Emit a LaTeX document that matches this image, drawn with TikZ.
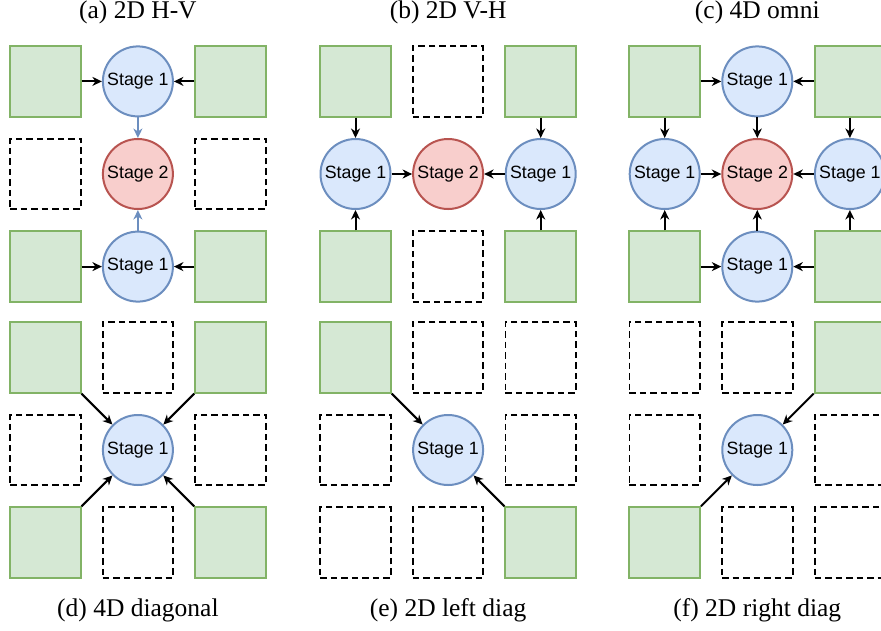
\documentclass[tikz,border=0pt]{standalone}
\usepackage{fontspec}
\setmainfont{Liberation Serif}
\newfontfamily\stagefont{Liberation Sans}
\usetikzlibrary{arrows.meta}
\definecolor{gfill}{HTML}{D5E8D4}
\definecolor{gline}{HTML}{82B366}
\definecolor{bfill}{HTML}{DAE8FC}
\definecolor{bline}{HTML}{6C8EBF}
\definecolor{rfill}{HTML}{F8CECC}
\definecolor{rline}{HTML}{B85450}
\tikzset{
  gsq/.style={rectangle, draw=gline, fill=gfill, line width=2pt, minimum size=70.5pt, inner sep=0pt},
  dsq/.style={rectangle, draw=black, line width=1.9pt, dash pattern=on 6.5pt off 4pt, minimum size=70.5pt, inner sep=0pt},
  sone/.style={circle, draw=bline, fill=bfill, line width=2pt, minimum size=70pt, inner sep=0pt, font=\stagefont\fontsize{17.8}{20}\selectfont},
  stwo/.style={circle, draw=rline, fill=rfill, line width=2pt, minimum size=70pt, inner sep=0pt, font=\stagefont\fontsize{17.8}{20}\selectfont},
  arr/.style={draw=black, line width=2pt, -{Stealth[length=9.5pt,width=9pt,inset=3pt]}},
  barr/.style={arr, draw=bline},
  ttl/.style={anchor=base, inner sep=0pt, font=\fontsize{25.5}{28}\selectfont}
}
\begin{document}
\begin{tikzpicture}[x=1pt,y=-1pt]
\useasboundingbox (0,0) rectangle (881,630);
\clip (0,0) rectangle (881,630);
\def\p{92.6}
% ---------- (a) ----------
\begin{scope}[shift={(137.9,174)}]
\node[gsq] (a-tl) at (-\p,-\p) {};
\node[sone] (a-tc) at (0,-\p) {Stage 1};
\node[gsq] (a-tr) at (\p,-\p) {};
\node[dsq] (a-ml) at (-\p,0) {};
\node[stwo] (a-mc) at (0,0) {Stage 2};
\node[dsq] (a-mr) at (\p,0) {};
\node[gsq] (a-bl) at (-\p,\p) {};
\node[sone] (a-bc) at (0,\p) {Stage 1};
\node[gsq] (a-br) at (\p,\p) {};
\draw[arr] (a-tl) -- (a-tc);
\draw[arr] (a-tr) -- (a-tc);
\draw[arr] (a-bl) -- (a-bc);
\draw[arr] (a-br) -- (a-bc);
\draw[barr] (a-tc) -- (a-mc);
\draw[barr] (a-bc) -- (a-mc);
\node[ttl] (a-t) at (0,-155.7) {(a) 2D H-V};
\end{scope}
% ---------- (b) ----------
\begin{scope}[shift={(448.1,174)}]
\node[gsq] (b-tl) at (-\p,-\p) {};
\node[dsq] (b-tc) at (0,-\p) {};
\node[gsq] (b-tr) at (\p,-\p) {};
\node[sone] (b-ml) at (-\p,0) {Stage 1};
\node[stwo] (b-mc) at (0,0) {Stage 2};
\node[sone] (b-mr) at (\p,0) {Stage 1};
\node[gsq] (b-bl) at (-\p,\p) {};
\node[dsq] (b-bc) at (0,\p) {};
\node[gsq] (b-br) at (\p,\p) {};
\draw[arr] (b-tl) -- (b-ml);
\draw[arr] (b-bl) -- (b-ml);
\draw[arr] (b-tr) -- (b-mr);
\draw[arr] (b-br) -- (b-mr);
\draw[arr] (b-ml) -- (b-mc);
\draw[arr] (b-mr) -- (b-mc);
\node[ttl] (b-t) at (0,-155.7) {(b) 2D V-H};
\end{scope}
% ---------- (c) ----------
\begin{scope}[shift={(757.3,174)}]
\node[gsq] (c-tl) at (-\p,-\p) {};
\node[sone] (c-tc) at (0,-\p) {Stage 1};
\node[gsq] (c-tr) at (\p,-\p) {};
\node[sone] (c-ml) at (-\p,0) {Stage 1};
\node[stwo] (c-mc) at (0,0) {Stage 2};
\node[sone] (c-mr) at (\p,0) {Stage 1};
\node[gsq] (c-bl) at (-\p,\p) {};
\node[sone] (c-bc) at (0,\p) {Stage 1};
\node[gsq] (c-br) at (\p,\p) {};
\draw[arr] (c-tl) -- (c-tc);
\draw[arr] (c-tr) -- (c-tc);
\draw[arr] (c-bl) -- (c-bc);
\draw[arr] (c-br) -- (c-bc);
\draw[arr] (c-tl) -- (c-ml);
\draw[arr] (c-bl) -- (c-ml);
\draw[arr] (c-tr) -- (c-mr);
\draw[arr] (c-br) -- (c-mr);
\draw[arr] (c-tc) -- (c-mc);
\draw[arr] (c-bc) -- (c-mc);
\draw[arr] (c-ml) -- (c-mc);
\draw[arr] (c-mr) -- (c-mc);
\node[ttl] (c-t) at (0,-155.7) {(c) 4D omni};
\end{scope}
% ---------- (d) ----------
\begin{scope}[shift={(137.9,450)}]
\node[gsq] (d-tl) at (-\p,-\p) {};
\node[dsq] (d-tc) at (0,-\p) {};
\node[gsq] (d-tr) at (\p,-\p) {};
\node[dsq] (d-ml) at (-\p,0) {};
\node[sone] (d-mc) at (0,0) {Stage 1};
\node[dsq] (d-mr) at (\p,0) {};
\node[gsq] (d-bl) at (-\p,\p) {};
\node[dsq] (d-bc) at (0,\p) {};
\node[gsq] (d-br) at (\p,\p) {};
\draw[arr] (d-tl.south east) -- (d-mc);
\draw[arr] (d-tr.south west) -- (d-mc);
\draw[arr] (d-bl.north east) -- (d-mc);
\draw[arr] (d-br.north west) -- (d-mc);
\node[ttl] (d-t) at (0,166.7) {(d) 4D diagonal};
\end{scope}
% ---------- (e) ----------
\begin{scope}[shift={(448.1,450)}]
\node[gsq] (e-tl) at (-\p,-\p) {};
\node[dsq] (e-tc) at (0,-\p) {};
\node[dsq] (e-tr) at (\p,-\p) {};
\node[dsq] (e-ml) at (-\p,0) {};
\node[sone] (e-mc) at (0,0) {Stage 1};
\node[dsq] (e-mr) at (\p,0) {};
\node[dsq] (e-bl) at (-\p,\p) {};
\node[dsq] (e-bc) at (0,\p) {};
\node[gsq] (e-br) at (\p,\p) {};
\draw[arr] (e-tl.south east) -- (e-mc);
\draw[arr] (e-br.north west) -- (e-mc);
\node[ttl] (e-t) at (0,166.7) {(e) 2D left diag};
\end{scope}
% ---------- (f) ----------
\begin{scope}[shift={(757.3,450)}]
\node[dsq] (f-tl) at (-\p,-\p) {};
\node[dsq] (f-tc) at (0,-\p) {};
\node[gsq] (f-tr) at (\p,-\p) {};
\node[dsq] (f-ml) at (-\p,0) {};
\node[sone] (f-mc) at (0,0) {Stage 1};
\node[dsq] (f-mr) at (\p,0) {};
\node[gsq] (f-bl) at (-\p,\p) {};
\node[dsq] (f-bc) at (0,\p) {};
\node[dsq] (f-br) at (\p,\p) {};
\draw[arr] (f-tr.south west) -- (f-mc);
\draw[arr] (f-bl.north east) -- (f-mc);
\node[ttl] (f-t) at (0,166.7) {(f) 2D right diag};
\end{scope}
\end{tikzpicture}
\end{document}
